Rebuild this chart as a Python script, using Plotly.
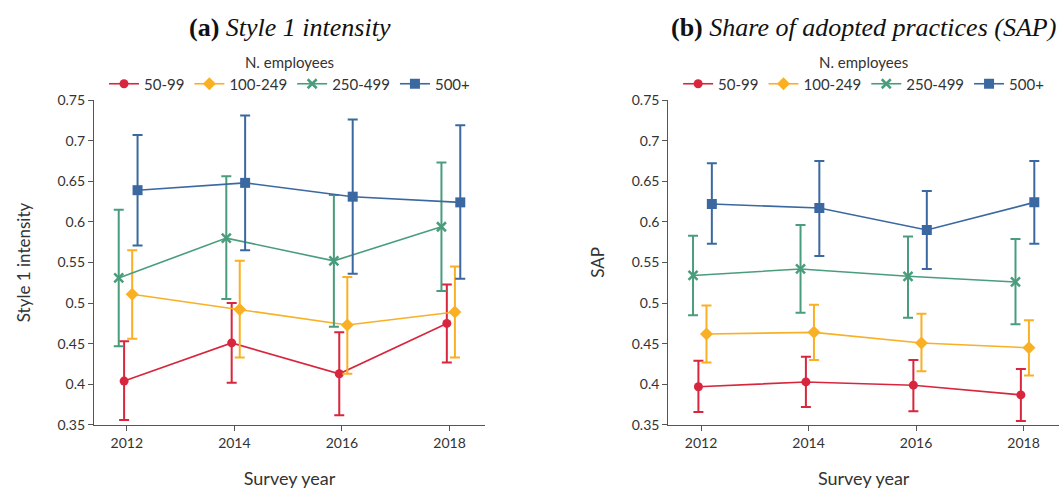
import plotly.graph_objects as go

years = [2012, 2014, 2016, 2018]
groups = ["50-99", "100-249", "250-499", "500+"]

# Panel (a): Style 1 intensity — mean, upper, lower
a_mean = {
    "50-99":   [0.404, 0.451, 0.413, 0.475],
    "100-249": [0.511, 0.492, 0.473, 0.489],
    "250-499": [0.531, 0.580, 0.552, 0.594],
    "500+":    [0.639, 0.648, 0.631, 0.624],
}
a_upper = {
    "50-99":   [0.453, 0.500, 0.464, 0.523],
    "100-249": [0.565, 0.552, 0.532, 0.545],
    "250-499": [0.615, 0.656, 0.633, 0.673],
    "500+":    [0.707, 0.731, 0.726, 0.719],
}
a_lower = {
    "50-99":   [0.356, 0.402, 0.362, 0.427],
    "100-249": [0.456, 0.433, 0.413, 0.433],
    "250-499": [0.447, 0.505, 0.471, 0.515],
    "500+":    [0.571, 0.565, 0.536, 0.530],
}

# Panel (b): SAP — mean, upper, lower
b_mean = {
    "50-99":   [0.397, 0.403, 0.399, 0.387],
    "100-249": [0.462, 0.464, 0.451, 0.445],
    "250-499": [0.534, 0.542, 0.533, 0.526],
    "500+":    [0.622, 0.617, 0.590, 0.624],
}
b_upper = {
    "50-99":   [0.429, 0.434, 0.430, 0.419],
    "100-249": [0.497, 0.498, 0.487, 0.479],
    "250-499": [0.583, 0.596, 0.582, 0.579],
    "500+":    [0.672, 0.675, 0.638, 0.675],
}
b_lower = {
    "50-99":   [0.366, 0.372, 0.367, 0.355],
    "100-249": [0.427, 0.430, 0.416, 0.411],
    "250-499": [0.485, 0.488, 0.482, 0.474],
    "500+":    [0.573, 0.558, 0.542, 0.573],
}

colors = {"50-99": "#D7263D", "100-249": "#F9B024", "250-499": "#4A9D7C", "500+": "#3B68A0"}
symbols = {"50-99": "circle", "100-249": "diamond", "250-499": "x-thin-open", "500+": "square"}
sizes = {"50-99": 9, "100-249": 10, "250-499": 9, "500+": 10}
dodge = {"50-99": -0.05, "100-249": 0.1, "250-499": -0.15, "500+": 0.2}

FONT = "Source Sans Pro, Lato, Noto Sans, sans-serif"

fig = go.Figure()

def add_panel(mean, upper, lower, xaxis, yaxis, legend):
    for g in groups:
        xs = [y + dodge[g] for y in years]
        up = [u - m for u, m in zip(upper[g], mean[g])]
        dn = [m - l for m, l in zip(mean[g], lower[g])]
        sym = symbols[g]
        marker = dict(symbol=sym, size=sizes[g], color=colors[g])
        if sym.startswith("x"):
            marker["line"] = dict(color=colors[g], width=2.5)
        fig.add_trace(go.Scatter(
            x=xs, y=mean[g], name=g, mode="lines+markers",
            line=dict(color=colors[g], width=1.6),
            marker=marker,
            error_y=dict(type="data", symmetric=False, array=up, arrayminus=dn,
                         color=colors[g], thickness=2, width=5),
            xaxis=xaxis, yaxis=yaxis, legend=legend,
        ))

add_panel(a_mean, a_upper, a_lower, "x", "y", "legend")
add_panel(b_mean, b_upper, b_lower, "x2", "y2", "legend2")

xcommon = dict(range=[2011.39, 2018.66], tickvals=years, ticktext=[str(y) for y in years],
               showline=True, linecolor="#555", linewidth=1.2, ticks="outside",
               ticklen=5, tickcolor="#555", showgrid=False, zeroline=False, automargin=False,
               tickfont=dict(size=14, color="#333", family=FONT),
               title=dict(text="Survey year", font=dict(size=18, color="#333", family=FONT), standoff=30))
ycommon = dict(range=[0.35, 0.75], dtick=0.05, tick0=0.35,
               showline=True, linecolor="#555", linewidth=1.2, ticks="outside",
               ticklen=5, tickcolor="#555", showgrid=False, zeroline=False, automargin=False,
               tickfont=dict(size=14, color="#333", family=FONT))

LEG_Y = 1 - 74 / 489
TITLE_Y = 1 - 28 / 489

fig.update_layout(
    width=1062, height=489,
    margin=dict(l=0, r=0, t=0, b=0),
    paper_bgcolor="white", plot_bgcolor="white",
    font=dict(family=FONT, color="#333"),
    xaxis=dict(domain=[0.0885, 0.4567], anchor="y", **xcommon),
    yaxis=dict(domain=[0.1309, 0.7955], anchor="x",
               title=dict(text="Style 1 intensity", font=dict(size=17, color="#333", family=FONT), standoff=22),
               **ycommon),
    xaxis2=dict(domain=[0.6293, 0.9972], anchor="y2", **xcommon),
    yaxis2=dict(domain=[0.1309, 0.7955], anchor="x2",
                title=dict(text="SAP", font=dict(size=17, color="#333", family=FONT), standoff=22),
                **ycommon),
    legend=dict(orientation="h", x=0.2726, xanchor="center", y=LEG_Y, yanchor="middle",
                title=dict(text="N. employees", side="top center", font=dict(size=15, family=FONT)),
                font=dict(size=15, color="#333", family=FONT), bgcolor="rgba(0,0,0,0)",
                itemwidth=30, tracegroupgap=0),
    legend2=dict(orientation="h", x=0.8132, xanchor="center", y=LEG_Y, yanchor="middle",
                 title=dict(text="N. employees", side="top center", font=dict(size=15, family=FONT)),
                 font=dict(size=15, color="#333", family=FONT), bgcolor="rgba(0,0,0,0)",
                 itemwidth=30, tracegroupgap=0),
    annotations=[
        dict(text="<b>(a)</b> <i>Style 1 intensity</i>", x=0.2726, y=TITLE_Y, xref="paper", yref="paper",
             showarrow=False, font=dict(family="Liberation Serif, Times New Roman, serif", size=26, color="#111"),
             xanchor="center", yanchor="middle"),
        dict(text="<b>(b)</b> <i>Share of adopted practices (SAP)</i>", x=0.8132, y=TITLE_Y, xref="paper", yref="paper",
             showarrow=False, font=dict(family="Liberation Serif, Times New Roman, serif", size=26, color="#111"),
             xanchor="center", yanchor="middle"),
    ],
)

fig.write_html("out.html")
